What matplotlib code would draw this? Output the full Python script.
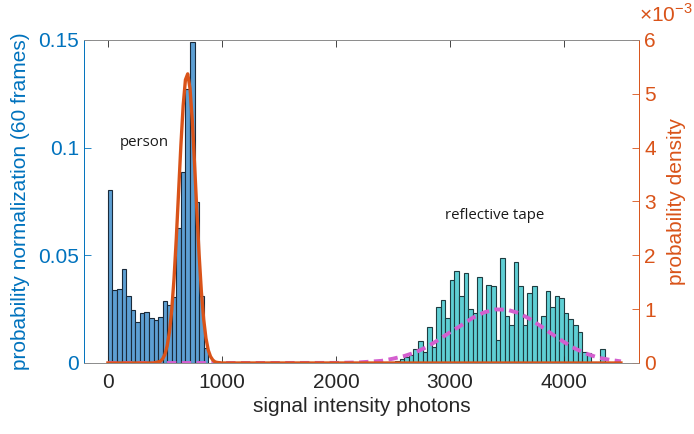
import matplotlib
matplotlib.use("Agg")
import matplotlib.pyplot as plt

plt.rcParams["font.family"] = ["Liberation Sans", "DejaVu Sans"]
plt.rcParams["mathtext.fontset"] = "custom"
plt.rcParams["mathtext.rm"] = "Liberation Sans"

# histogram bins (width 40 photons)
bin_w = 40
person_start = 0
person_vals = [0.0802, 0.0339, 0.0342, 0.0437, 0.0310, 0.0246, 0.0189, 0.0231,
               0.0235, 0.0207, 0.0201, 0.0215, 0.0286, 0.0268, 0.0308, 0.0625,
               0.0886, 0.1270, 0.1490, 0.0746, 0.0310, 0.0068]
tape_start = 2440
tape_vals = [0.0005, 0.0005, 0.0010, 0.0020, 0.0030, 0.0037, 0.0063, 0.0103,
             0.0050, 0.0165, 0.0075, 0.0261, 0.0292, 0.0207, 0.0387, 0.0427,
             0.0313, 0.0418, 0.0250, 0.0230, 0.0397, 0.0238, 0.0364, 0.0356,
             0.0106, 0.0489, 0.0218, 0.0176, 0.0469, 0.0356, 0.0176, 0.0323,
             0.0356, 0.0176, 0.0218, 0.0333, 0.0260, 0.0312, 0.0303, 0.0230,
             0.0205, 0.0176, 0.0145, 0.0050, 0.0045, 0.0006, 0.0006, 0.0063,
             0.0005]

# fitted densities (units of 1e-3)
person_fit_x = [0, 400, 460, 480, 500, 520, 540, 560, 580, 600, 620, 640, 660,
                680, 700, 720, 740, 760, 780, 800, 820, 840, 860, 880, 900,
                920, 940, 960, 1000, 4500]
person_fit_y = [0, 0, 0.03, 0.076, 0.16, 0.32, 0.58, 0.99, 1.57, 2.32, 3.18,
                4.04, 4.78, 5.26, 5.37, 5.10, 4.51, 3.70, 2.83, 2.01, 1.32,
                0.81, 0.46, 0.24, 0.12, 0.055, 0.02, 0.01, 0, 0]
tape_fit_x = [0, 1000, 2000, 2200, 2400, 2500, 2600, 2700, 2800, 2900, 3000,
              3100, 3200, 3300, 3400, 3500, 3600, 3700, 3800, 3900, 4000, 4100,
              4200, 4300, 4400, 4500]
tape_fit_y = [0, 0, 0.002, 0.01, 0.04, 0.08, 0.13, 0.20, 0.30, 0.43, 0.57,
              0.70, 0.84, 0.94, 0.995, 0.99, 0.93, 0.82, 0.68, 0.53, 0.39,
              0.265, 0.17, 0.10, 0.06, 0.03]

blue = "#0072BD"
orange = "#D95319"

fig = plt.figure(figsize=(6.94, 4.34), dpi=100)
ax = fig.add_axes([0.121, 0.1636, 0.80, 0.7444])

px = [person_start + i * bin_w for i in range(len(person_vals))]
tx = [tape_start + i * bin_w for i in range(len(tape_vals))]
ax.bar(px, person_vals, width=bin_w, align="edge", color="#5d9fd3",
       edgecolor="#1a2a3a", linewidth=0.8)
ax.bar(tx, tape_vals, width=bin_w, align="edge", color="#5fcfd4",
       edgecolor="#1e3c40", linewidth=0.8)

ax.set_xlim(-210, 4660)
ax.set_ylim(0, 0.15)
ax.set_xticks([0, 1000, 2000, 3000, 4000])
ax.set_yticks([0, 0.05, 0.1, 0.15])
ax.set_yticklabels(["0", "0.05", "0.1", "0.15"])
ax.tick_params(axis="x", direction="in", top=True, length=5, labelsize=15,
               colors="#262626", width=0.6, pad=7)
ax.tick_params(axis="y", direction="in", length=5, labelsize=15,
               colors=blue, width=0.6)
ax.set_xlabel("signal intensity photons", fontsize=15, color="#262626")
ax.set_ylabel("probability normalization (60 frames)", fontsize=15,
              color=blue, labelpad=6)

ax.text(100, 0.1023, "person", fontsize=10.8, family="Open Sans",
        va="center", ha="left", color="#1a1a1a")
ax.text(2960, 0.0685, "reflective tape", fontsize=10.8, family="Open Sans",
        va="center", ha="left", color="#1a1a1a")

ax2 = ax.twinx()
ax2.plot(tape_fit_x, tape_fit_y, color="#d45fcf", lw=2.8,
         dashes=(2.4, 1.4))
ax2.plot(person_fit_x, person_fit_y, color=orange, lw=2.4)
ax2.set_ylim(0, 6)
ax2.set_yticks(range(7))
ax2.tick_params(axis="y", direction="in", length=5, labelsize=15,
                colors=orange, width=0.6)
ax2.set_ylabel("probability density", fontsize=15, color=orange, labelpad=8)
ax2.text(1.0, 1.045, r"$\times10^{-3}$", transform=ax2.transAxes,
         fontsize=15, color=orange, ha="left", va="bottom")

for a in (ax, ax2):
    a.spines["top"].set_color("#8c8c8c")
    a.spines["bottom"].set_color("#8c8c8c")
    a.spines["left"].set_color(blue)
    a.spines["right"].set_color(orange)
    for s in a.spines.values():
        s.set_linewidth(0.6)

fig.savefig("out.png", dpi=100)
